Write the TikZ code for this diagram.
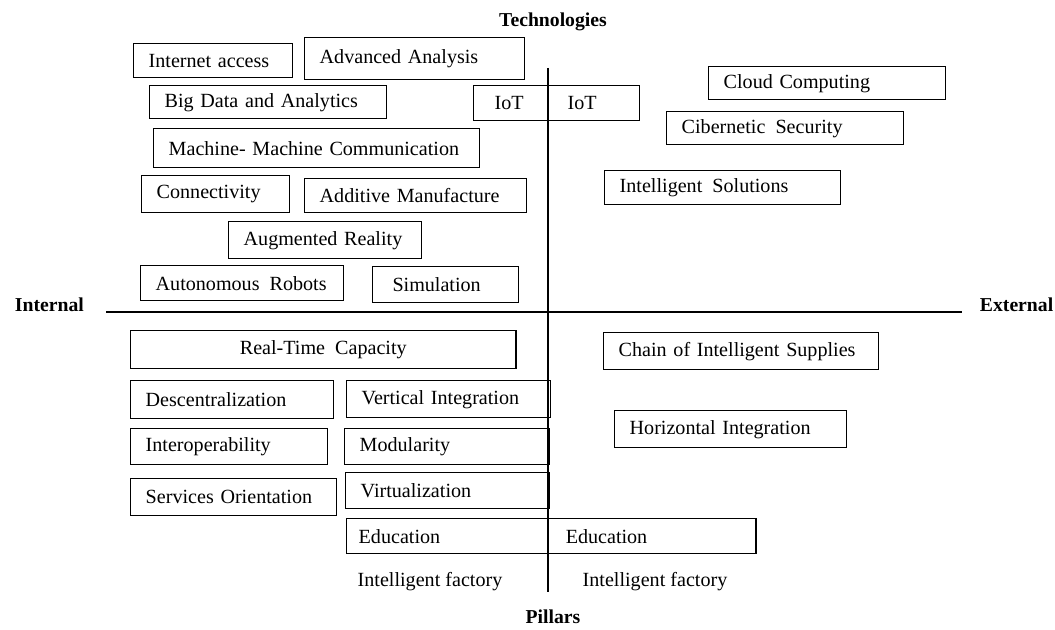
\documentclass[tikz,border=0pt]{standalone}
\usepackage{fontspec}
\setmainfont{Liberation Serif}
\usepackage{tikz}
\newcommand{\axcol}{black}
\newcommand{\boxfont}{\fontsize{14.3}{16}\selectfont}

\tikzset{
  box/.style={draw, line width=1pt, anchor=north west, align=left,
    inner xsep=0.375cm, inner ysep=0pt, font=\boxfont},
  lab/.style={font=\fontsize{14}{16}\selectfont\bfseries},
  txt/.style={font=\boxfont},
  axe/.style={draw=\axcol, line width=2pt}
}

\begin{document}
\begin{tikzpicture}[x=0.025cm, y=-0.025cm]

    \useasboundingbox (0,0) rectangle (1055,630);

    % axes
    \coordinate (vtop) at (548,68);
    \coordinate (vbot) at (548,592);
    \coordinate (hleft) at (106,312);
    \coordinate (hright) at (962,312);
    \draw[axe] (vtop) -- (vbot);
    \draw[axe] (hleft) -- (hright);

    \node[lab] (tech) at (553,22) {Technologies};
    \node[lab] (pill) at (553,617) {Pillars};
    \node[lab, anchor=west] (intl) at (10,305) {Internal};
    \node[lab, anchor=west] (extl) at (975,305) {External};

    % technologies, interne
    \node[box, text width=3.225cm, minimum height=0.85cm] (inet) at (133,43) {Internet access};
    \node[box, text width=4.75cm, minimum height=1.05cm] (adva) at (304,37) {Advanced Analysis};
    \node[box, text width=5.175cm, minimum height=0.825cm] (bigd) at (149,85) {Big Data and Analytics};
    \node[box, text width=3.1cm, inner xsep=0.525cm, minimum height=0.875cm] (iot) at (473,85) {IoT\hspace{1.1cm}IoT};
    \node[box, text width=7.4cm, minimum height=0.975cm] (mmc) at (153,128) {Machine- Machine Communication};
    \node[box, text width=2.95cm, minimum height=0.925cm] (conn) at (141,175) {Connectivity};
    \node[box, text width=4.8cm, minimum height=0.85cm] (addm) at (304,178) {Additive Manufacture};
    \node[box, text width=4.075cm, minimum height=0.925cm] (augr) at (228,221) {Augmented Reality};
    \node[box, text width=4.325cm, minimum height=0.875cm] (auto) at (140,265) {Autonomous\enspace Robots};
    \node[box, text width=2.9cm, minimum height=0.9cm] (simu) at (372,266) {\hspace{0.12cm}Simulation};

    % technologies, externe
    \node[box, text width=5.175cm, minimum height=0.825cm] (clou) at (708,66) {Cloud Computing};
    \node[box, text width=5.175cm, minimum height=0.825cm] (cibe) at (666,111) {Cibernetic\enspace Security};
    \node[box, text width=5.15cm, minimum height=0.85cm] (isol) at (604,170) {Intelligent\enspace Solutions};

    % piliers
    \node[box, align=center, text width=8.875cm, minimum height=0.95cm] (rtc) at (130,330) {Real-Time\enspace Capacity};
    \node[box, text width=6.125cm, minimum height=0.925cm] (chai) at (603,332) {Chain of Intelligent Supplies};
    \node[box, text width=4.325cm, minimum height=0.95cm] (desc) at (130,380) {Descentralization};
    \node[box, text width=4.35cm, minimum height=0.925cm] (vint) at (346,380) {Vertical Integration};
    \node[box, text width=5.05cm, minimum height=0.925cm] (hint) at (614,410) {Horizontal Integration};
    \node[box, text width=4.175cm, minimum height=0.9cm] (inte) at (130,428) {Interoperability};
    \node[box, text width=4.375cm, minimum height=0.9cm] (modu) at (344,428) {Modularity};
    \node[box, text width=4.4cm, minimum height=0.925cm] (serv) at (130,478) {Services Orientation};
    \node[box, text width=4.35cm, minimum height=0.9cm] (virt) at (345,472) {Virtualization};
    \node[box, text width=9.625cm, inner xsep=0.3cm, minimum height=0.875cm] (educ) at (346,518) {\makebox[5.175cm][l]{Education}Education};

    \node[txt] (ifa1) at (430,582) {Intelligent factory};
    \node[txt] (ifa2) at (655,582) {Intelligent factory};

\end{tikzpicture}
\end{document}
